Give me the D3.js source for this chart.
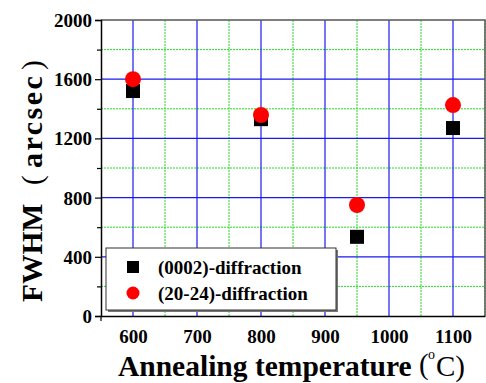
<!DOCTYPE html>
<html>
<head>
<meta charset="utf-8">
<script src="https://cdn.jsdelivr.net/npm/d3@7"></script>
<style>
  body { margin: 0; background: #fff; }
  text { font-family: "Liberation Serif", "Times New Roman", serif; }
</style>
</head>
<body>
<div id="chart"></div>
<script>
// data
const temps = [600, 800, 950, 1100];
const fwhm0002 = [1520, 1330, 535, 1270];
const fwhm2024 = [1600, 1358, 750, 1425];
const seriesNames = ["(0002)-diffraction", "(20-24)-diffraction"];
const xTicks = [600, 700, 800, 900, 1000, 1100];
const yTicks = [0, 400, 800, 1200, 1600, 2000];

const width = 486, height = 383;
const margin = { left: 101, right: 1, top: 20, bottom: 67 };
const innerWidth = width - margin.left - margin.right,
    innerHeight = height - margin.top - margin.bottom;

const svg = d3.select("#chart").append("svg")
    .attr("width", width)
    .attr("height", height);

const g = svg.append("g")
    .attr("transform", "translate(" + margin.left + "," + margin.top + ")");

const xScale = d3.scaleLinear().domain([550, 1150]).range([0, innerWidth]);
const yScale = d3.scaleLinear().domain([0, 2000]).range([innerHeight, 0]);

// grid: blue majors, green dotted minors
const xMinor = d3.range(650, 1151, 100);
const yMinor = d3.range(200, 2000, 400);

g.selectAll(".gx-minor").data(xMinor).enter().append("line")
    .attr("x1", d => xScale(d)).attr("x2", d => xScale(d))
    .attr("y1", 0).attr("y2", innerHeight)
    .attr("stroke", "#22dd22").attr("stroke-width", 1)
    .attr("stroke-dasharray", "2,1");
g.selectAll(".gy-minor").data(yMinor).enter().append("line")
    .attr("x1", 0).attr("x2", innerWidth)
    .attr("y1", d => yScale(d)).attr("y2", d => yScale(d))
    .attr("stroke", "#22dd22").attr("stroke-width", 1)
    .attr("stroke-dasharray", "2,1");
g.selectAll(".gx-major").data(xTicks).enter().append("line")
    .attr("x1", d => xScale(d)).attr("x2", d => xScale(d))
    .attr("y1", 0).attr("y2", innerHeight)
    .attr("stroke", "#1a1aee").attr("stroke-width", 1.2);
g.selectAll(".gy-major").data(yTicks.slice(1, -1)).enter().append("line")
    .attr("x1", 0).attr("x2", innerWidth)
    .attr("y1", d => yScale(d)).attr("y2", d => yScale(d))
    .attr("stroke", "#1a1aee").attr("stroke-width", 1.2);

// frame top/right
g.append("path")
    .attr("d", "M0,0H" + innerWidth + "V" + innerHeight)
    .attr("fill", "none").attr("stroke", "#555").attr("stroke-width", 1.5);

// axes (bottom: labels only, the corner tick is the y axis running on)
const xAxis = g.append("g")
    .attr("transform", "translate(0," + innerHeight + ")")
    .call(d3.axisBottom(xScale).tickValues(xTicks).tickSize(0).tickPadding(8)
        .tickFormat(d3.format("d")));
const yAxis = g.append("g")
    .call(d3.axisLeft(yScale).tickValues(d3.range(0, 2001, 200))
        .tickSize(6).tickFormat(d => yTicks.includes(d) ? d : ""));

g.append("line")
    .attr("x1", 0).attr("x2", 0).attr("y1", innerHeight).attr("y2", innerHeight + 5)
    .attr("stroke", "#000").attr("stroke-width", 1.2);

[xAxis, yAxis].forEach(a => {
    a.select(".domain").attr("stroke", "#000").attr("stroke-width", 1.5);
    a.selectAll(".tick line").attr("stroke", "#000").attr("stroke-width", 1.2);
    a.selectAll(".tick text")
        .attr("fill", "#000")
        .style("font-family", "'Liberation Serif', serif")
        .style("font-weight", "bold")
        .style("font-size", "19px");
});
yAxis.selectAll(".tick").filter(d => !yTicks.includes(d)).select("line").attr("x2", -4);
xAxis.selectAll(".tick text").attr("dy", "1.0em");
yAxis.selectAll(".tick text").attr("x", -9).attr("dy", "0.34em");

// points
g.selectAll(".sq").data(temps).enter().append("rect")
    .attr("x", (d, i) => xScale(d) - 7)
    .attr("y", (d, i) => yScale(fwhm0002[i]) - 7)
    .attr("width", 14).attr("height", 14)
    .attr("fill", "#000");
g.selectAll(".ci").data(temps).enter().append("circle")
    .attr("cx", d => xScale(d))
    .attr("cy", (d, i) => yScale(fwhm2024[i]))
    .attr("r", 8)
    .attr("fill", "#ff0000");

// legend
const legend = g.append("g").attr("transform", "translate(5,228)");
legend.append("rect")
    .attr("x", 2).attr("y", 2).attr("width", 230).attr("height", 62)
    .attr("fill", "#777");
legend.append("rect")
    .attr("x", 0).attr("y", 0).attr("width", 230).attr("height", 62)
    .attr("fill", "#fff").attr("stroke", "#333").attr("stroke-width", 1);

seriesNames.forEach(function(d, i) {
    let row = legend.append("g")
        .attr("transform", "translate(0," + (19 + i * 26) + ")");
    if (i === 0) {
        row.append("rect").attr("x", 21).attr("y", -6).attr("width", 12).attr("height", 12)
            .attr("fill", "#000");
    } else {
        row.append("circle").attr("cx", 27).attr("cy", 0).attr("r", 6.5)
            .attr("fill", "#ff0000");
    }
    row.append("text")
        .attr("x", 52).attr("y", 0).attr("dy", "0.35em")
        .style("font-weight", "bold").style("font-size", "19px")
        .text(d);
});

// axis titles
svg.append("text")
    .attr("x", 118).attr("y", 376)
    .style("font-size", "29.5px").style("font-weight", "bold")
    .text("Annealing temperature");
svg.append("text").attr("x", 419).attr("y", 374)
    .style("font-size", "29px").text("(");
svg.append("text").attr("x", 428).attr("y", 359)
    .style("font-size", "14px").text("o");
svg.append("text").attr("x", 436).attr("y", 376)
    .style("font-size", "29px").text("C)");

const yt = svg.append("g").attr("transform", "translate(42,302) rotate(-90)");
yt.append("text").attr("x", 0)
    .style("font-size", "29.5px").style("font-weight", "bold").text("FWHM");
yt.append("text").attr("x", 117)
    .style("font-size", "29px").text("(");
yt.append("text").attr("x", 134)
    .style("font-size", "30px").style("font-weight", "bold")
    .style("letter-spacing", "2.5px").text("arcsec");
yt.append("text").attr("x", 232)
    .style("font-size", "29px").text(")");
</script>
</body>
</html>
